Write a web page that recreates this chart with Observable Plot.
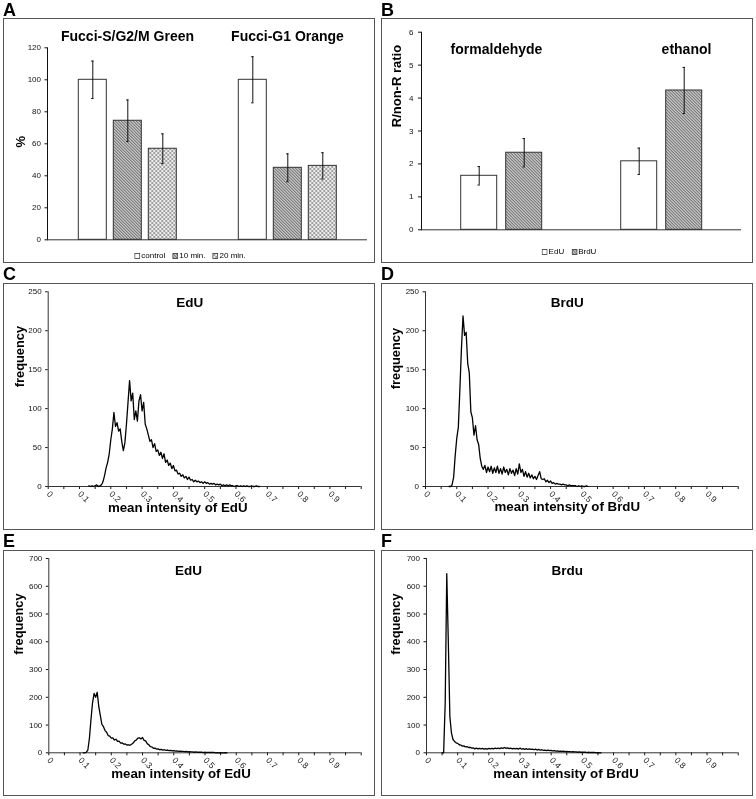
<!DOCTYPE html>
<html><head><meta charset="utf-8">
<script src="https://cdn.jsdelivr.net/npm/d3@7"></script>
<script src="https://cdn.jsdelivr.net/npm/@observablehq/plot@0.6"></script>
<style>
body{margin:0;background:#fff;font-family:"Liberation Sans",Arial,sans-serif;}
#fig{position:relative;width:756px;height:799px;overflow:hidden;}
.box{position:absolute;border:1px solid #555;}
.box svg{display:block;position:absolute;left:0;top:0;will-change:transform;opacity:0.999;}
.letter{position:absolute;font-weight:bold;font-size:18px;line-height:18px;color:#000;}
.legend{position:absolute;font-size:8px;line-height:10px;display:flex;gap:7px;align-items:center;transform:translateX(-50%);white-space:nowrap;color:#000;}
.legend span{display:inline-flex;align-items:center;gap:1px;}
</style></head>
<body>
<svg width="0" height="0" style="position:absolute">
<defs>
<pattern id="hatch" patternUnits="userSpaceOnUse" width="3" height="3">
<rect width="3" height="3" fill="#c4c4c4"/>
<path d="M-1,2 L1,4 M0,0 L3,3 M2,-1 L4,1" stroke="#555" stroke-width="0.9"/>
</pattern>
<pattern id="diam" patternUnits="userSpaceOnUse" width="4" height="4">
<rect width="4" height="4" fill="#eeeeee"/>
<path d="M0,0 L4,4 M4,0 L0,4" stroke="#858585" stroke-width="0.75"/>
</pattern>
</defs>
</svg>
<div id="fig"></div>
<script>
// ---------- Panel A data ----------
const groupsA = ["Fucci-S/G2/M Green", "Fucci-G1 Orange"];
const conditionsA = ["control", "10 min.", "20 min."];
const meanGreen = [100, 74.4, 56.9];
const errGreen = [11.7, 13.0, 9.3];
const meanOrange = [100, 45.0, 46.2];
const errOrange = [14.4, 8.7, 8.2];
const yTicksA = [0, 20, 40, 60, 80, 100, 120];

// ---------- Panel B data ----------
const groupsB = ["formaldehyde", "ethanol"];
const labelsB = ["EdU", "BrdU"];
const ratioFormaldehyde = [1.64, 2.34];
const errFormaldehyde = [0.28, 0.43];
const ratioEthanol = [2.08, 4.23];
const errEthanol = [0.40, 0.70];
const yTicksB = [0, 1, 2, 3, 4, 5, 6];

// ---------- Histogram data (bin width 0.005) ----------
const binWidth = 0.005;
const xTickLabels = [0, 0.1, 0.2, 0.3, 0.4, 0.5, 0.6, 0.7, 0.8, 0.9];
const xMinorTicks = [0.05, 0.15, 0.25, 0.35, 0.45, 0.55, 0.65, 0.75, 0.85, 0.95, 1.0];
const yTicksCD = [0, 50, 100, 150, 200, 250];
const yTicksEF = [0, 100, 200, 300, 400, 500, 600, 700];

const edUFormStart = 0.13;
const edUFormFreq = [1,0,1,0,1,2,0,1,2,6,14,24,31,42,60,74,95,77,82,71,74,58,46,56,80,108,136,110,120,86,97,84,110,118,97,108,80,74,66,58,60,50,55,45,47,40,44,36,42,31,34,27,30,23,27,20,21,16,17,13,15,11,13,9,12,8,9,6,8,6,7,5,6,4,6,4,5,3,4,3,4,2,3,2,3,1,2,1,2,1,2,1,1,0,1,1,0,1,0,1,0,1,0,0,1,0,0,1,0,0];

const brdUFormStart = 0.075;
const brdUFormFreq = [0,0,2,12,40,62,76,125,178,219,194,198,158,146,96,88,66,78,60,54,36,26,22,27,18,25,19,26,17,24,18,26,17,23,16,25,18,22,15,23,17,21,14,23,16,29,18,22,13,19,12,17,11,15,10,13,9,14,19,10,9,10,6,8,5,7,4,5,3,4,3,3,2,3,2,2,1,2,1,1,1,1,0,1,0,1,0,0,1,0];

const edUEthStart = 0.11;
const edUEthFreq = [0,0,2,10,52,120,180,214,200,218,166,134,102,94,80,74,62,60,53,54,46,49,41,42,35,36,31,32,28,29,27,31,35,43,46,53,54,50,55,45,43,33,29,22,21,16,17,13,14,11,12,10,11,9,10,8,9,7,8,6,7,5,6,5,5,4,5,3,4,3,3,2,3,2,2,2,2,1,2,1,1,1,1,1,1,0,1,0,1,0,0,1,0];

const brdUEthStart = 0.05;
const brdUEthFreq = [0,0,180,645,400,130,72,48,41,36,34,29,28,24,25,21,22,19,20,17,18,14,17,14,16,14,16,13,15,13,16,14,16,14,17,15,17,15,18,16,19,16,18,15,17,14,16,14,16,13,17,13,15,12,15,12,14,12,13,11,13,10,12,10,11,9,10,8,10,8,9,7,8,6,7,5,6,5,6,4,5,4,4,3,4,3,3,2,3,2,2,2,2,1,2,1,1,1,1,0,1,0,0];

// ---------- helpers ----------
const FONT = '"Liberation Sans", Arial, sans-serif';
const fig = document.getElementById("fig");
function addBox(left, top, w, h) {
  const d = document.createElement("div");
  d.className = "box";
  Object.assign(d.style, {left: left + "px", top: top + "px", width: w + "px", height: h + "px"});
  fig.appendChild(d);
  return d;
}
function addLetter(t, left, top) {
  const d = document.createElement("div");
  d.className = "letter";
  d.textContent = t;
  Object.assign(d.style, {left: left + "px", top: top + "px"});
  fig.appendChild(d);
}
function addLegend(items, cx, top) {
  const d = document.createElement("div");
  d.className = "legend";
  Object.assign(d.style, {left: cx + "px", top: top + "px"});
  items.forEach(([label, fill]) => {
    const s = document.createElement("span");
    s.innerHTML = `<svg width="6" height="6" style="display:block"><rect x="0.5" y="0.5" width="5" height="5" fill="${fill}" stroke="#333" stroke-width="0.8"/></svg>${label}`;
    d.appendChild(s);
  });
  fig.appendChild(d);
}
const baseStyle = {fontFamily: FONT, fontSize: "8px", color: "#111", background: "transparent", overflow: "visible"};

// ---------- Panel A ----------
const tableA = groupsA.flatMap((g, gi) => conditionsA.map((c, ci) => ({
  group: g, condition: c,
  mean: [meanGreen, meanOrange][gi][ci],
  err: [errGreen, errOrange][gi][ci]
})));
const boxA = addBox(3, 18, 370, 243);
boxA.appendChild(Plot.plot({
  width: 370, height: 243,
  marginLeft: 42.7, marginRight: 6, marginTop: 28.3, marginBottom: 22.7,
  style: baseStyle,
  fx: {domain: groupsA, padding: 0, axis: null},
  x: {domain: conditionsA, paddingInner: 0.2, paddingOuter: 0.87, axis: null},
  y: {domain: [0, 120], ticks: yTicksA, tickSize: 2.5, tickPadding: 4, tickFormat: d => String(d), line: true, label: null},
  color: {type: "ordinal", domain: conditionsA, range: ["#ffffff", "url(#hatch)", "url(#diam)"]},
  marks: [
    Plot.barY(tableA, {fx: "group", x: "condition", y: "mean", fill: "condition", stroke: "#333", strokeWidth: 1}),
    Plot.ruleX(tableA, {fx: "group", x: "condition", y1: d => d.mean - d.err, y2: d => d.mean + d.err, stroke: "#111", strokeWidth: 1}),
    Plot.tickY(tableA, {fx: "group", x: "condition", y: d => d.mean + d.err, insetLeft: 12.8, insetRight: 12.8, stroke: "#111"}),
    Plot.tickY(tableA, {fx: "group", x: "condition", y: d => d.mean - d.err, insetLeft: 12.8, insetRight: 12.8, stroke: "#111"}),
    Plot.ruleY([0], {stroke: "#333"}),
    Plot.text(groupsA, {fx: d => d, text: d => d, frameAnchor: "top", dy: -16.3, fontSize: 14, fontWeight: "bold", fill: "#000"}),
    Plot.text([groupsA[0]], {fx: d => d, text: () => "%", frameAnchor: "left", rotate: -90, dx: -26.7, dy: 3.7, fontSize: 13, fontWeight: "bold", fill: "#000"})
  ]
}));
addLetter("A", 3, 0.7);
addLegend([["control", "#ffffff"], ["10 min.", "url(#hatch)"], ["20 min.", "url(#diam)"]], 190, 251);

// ---------- Panel B ----------
const tableB = groupsB.flatMap((g, gi) => labelsB.map((c, ci) => ({
  group: g, label: c,
  mean: [ratioFormaldehyde, ratioEthanol][gi][ci],
  err: [errFormaldehyde, errEthanol][gi][ci]
})));
const boxB = addBox(381, 18, 370, 243);
boxB.appendChild(Plot.plot({
  width: 370, height: 243,
  marginLeft: 38.3, marginRight: 10.3, marginTop: 12.7, marginBottom: 32.7,
  style: baseStyle,
  fx: {domain: groupsB, padding: 0, axis: null},
  x: {domain: labelsB, paddingInner: 0.2, paddingOuter: 0.86, axis: null},
  y: {domain: [0, 6], ticks: yTicksB, tickSize: 3, tickPadding: 5, tickFormat: d => String(d), line: true, label: null},
  color: {type: "ordinal", domain: labelsB, range: ["#ffffff", "url(#hatch)"]},
  marks: [
    Plot.barY(tableB, {fx: "group", x: "label", y: "mean", fill: "label", stroke: "#333", strokeWidth: 1}),
    Plot.ruleX(tableB, {fx: "group", x: "label", y1: d => d.mean - d.err, y2: d => d.mean + d.err, stroke: "#111", strokeWidth: 1}),
    Plot.tickY(tableB, {fx: "group", x: "label", y: d => d.mean + d.err, insetLeft: 16.8, insetRight: 16.8, stroke: "#111"}),
    Plot.tickY(tableB, {fx: "group", x: "label", y: d => d.mean - d.err, insetLeft: 16.8, insetRight: 16.8, stroke: "#111"}),
    Plot.ruleY([0], {stroke: "#333"}),
    Plot.text([groupsB[0]], {fx: d => d, text: d => d, frameAnchor: "top", dy: 12.3, dx: -5, fontSize: 14, fontWeight: "bold", fill: "#000"}),
    Plot.text([groupsB[1]], {fx: d => d, text: d => d, frameAnchor: "top", dy: 12.3, dx: 25, fontSize: 14, fontWeight: "bold", fill: "#000"}),
    Plot.text([groupsB[0]], {fx: d => d, text: () => "R/non-R ratio", frameAnchor: "left", rotate: -90, dx: -24.3, dy: -3.8, fontSize: 13, fontWeight: "bold", fill: "#000"})
  ]
}));
addLetter("B", 381, 0.7);
addLegend([["EdU", "#ffffff"], ["BrdU", "url(#hatch)"]], 569, 247);

// ---------- Histograms ----------
function histPanel(o) {
  const rows = o.freq.map((v, i) => ({x: o.start + i * binWidth, y: v}));
  const box = addBox(o.left, o.top, 370, o.h);
  box.appendChild(Plot.plot({
    width: 370, height: o.h,
    marginLeft: o.ml, marginRight: o.mr, marginTop: o.mt, marginBottom: o.mb,
    style: baseStyle,
    x: {domain: [0, 1]},
    y: {domain: [0, o.yMax]},
    marks: [
      Plot.axisX(xMinorTicks, {tickSize: 3, tickFormat: () => "", label: null}),
      Plot.axisX(xTickLabels, {tickSize: 3, tickPadding: 3, tickRotate: 45, textAnchor: "start", lineAnchor: "middle", tickFormat: d => String(d), label: null, fontSize: 8.5, fill: "#222"}),
      Plot.axisY(o.yTicks, {tickSize: 2.5, tickPadding: 4, tickFormat: d => String(d), label: null, fontSize: 8}),
      Plot.ruleY([0], {stroke: "#333"}),
      Plot.ruleX([0], {stroke: "#333"}),
      Plot.line(rows, {x: "x", y: "y", stroke: "#000", strokeWidth: 1.3}),
      Plot.text([o.title], {text: d => d, frameAnchor: "top", dx: o.tdx, dy: o.tdy, fontSize: 13.5, fontWeight: "bold", fill: "#000"}),
      Plot.text([o.xLabel], {text: d => d, frameAnchor: "bottom", dx: o.xdx, dy: o.xdy, fontSize: 13.3, fontWeight: "bold", fill: "#000"}),
      Plot.text(["frequency"], {text: d => d, frameAnchor: "left", rotate: -90, dx: o.ydx, dy: o.ydy, fontSize: 12.8, fontWeight: "bold", fill: "#000"})
    ]
  }));
}
histPanel({left: 3, top: 283, h: 245, ml: 43.7, mr: 13.3, mt: 7.3, mb: 43, freq: edUFormFreq, start: edUFormStart,
  yMax: 250, yTicks: yTicksCD, title: "EdU", xLabel: "mean intensity of EdU", tdx: -15, tdy: 5.7, xdx: -27, xdy: 25, ydx: -28.7, ydy: -2});
histPanel({left: 381, top: 283, h: 245, ml: 43, mr: 14.3, mt: 7.3, mb: 43, freq: brdUFormFreq, start: brdUFormStart,
  yMax: 250, yTicks: yTicksCD, title: "BrdU", xLabel: "mean intensity of BrdU", tdx: -14.7, tdy: 5.7, xdx: -14.6, xdy: 24, ydx: -29.7, ydy: 0});
histPanel({left: 3, top: 550, h: 244, ml: 44.3, mr: 13.3, mt: 7, mb: 42.7, freq: edUEthFreq, start: edUEthStart,
  yMax: 700, yTicks: yTicksEF, title: "EdU", xLabel: "mean intensity of EdU", tdx: -16.5, tdy: 7, xdx: -24, xdy: 25, ydx: -30, ydy: -1});
histPanel({left: 381, top: 550, h: 244, ml: 44, mr: 14.3, mt: 7, mb: 42.7, freq: brdUEthFreq, start: brdUEthStart,
  yMax: 700, yTicks: yTicksEF, title: "Brdu", xLabel: "mean intensity of BrdU", tdx: -15.2, tdy: 7, xdx: -16.3, xdy: 24.7, ydx: -30.7, ydy: -1});
addLetter("C", 3, 264.7);
addLetter("D", 381, 264.7);
addLetter("E", 3, 531.7);
addLetter("F", 381, 531.7);
</script>
</body></html>
